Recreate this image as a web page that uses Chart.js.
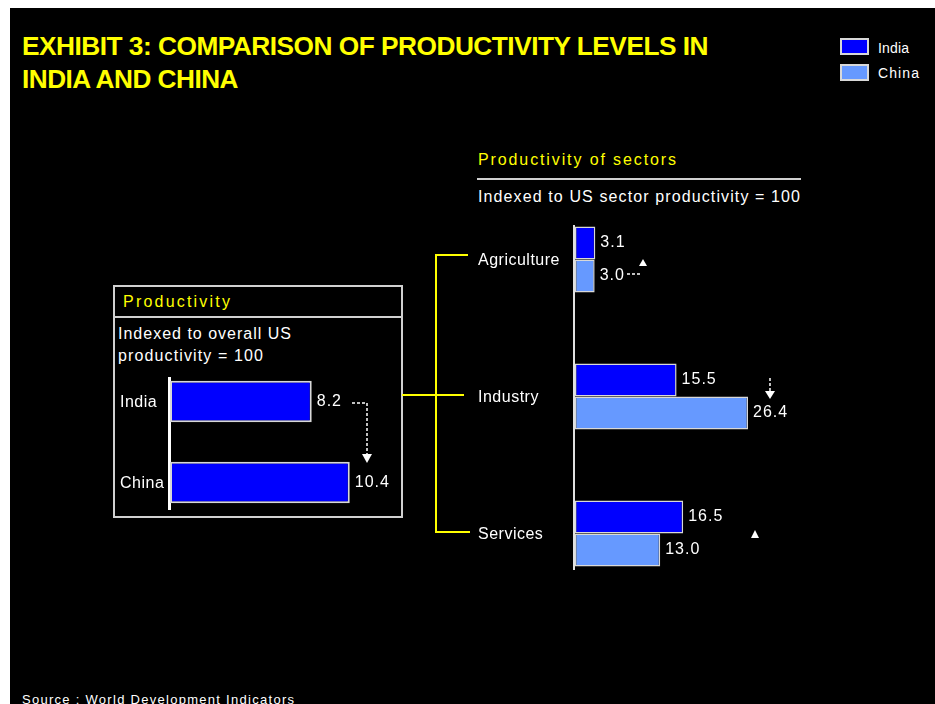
<!DOCTYPE html>
<html>
<head>
<meta charset="utf-8">
<script src="https://cdn.jsdelivr.net/npm/chart.js@4.4.0/dist/chart.umd.min.js"></script>
<style>
html, body { margin: 0; padding: 0; background: #fff; }
#page { position: absolute; left: 0; top: 0; width: 935px; height: 704px; overflow: hidden; }
#panel { position: absolute; left: 10px; top: 8px; width: 925px; height: 696px; background: #000; }
.t { position: absolute; white-space: nowrap; line-height: 1; font-family: "Liberation Sans", Arial, sans-serif; color: #fff; font-size: 16px; transform-origin: 0 0; }
.title { font-family: "Liberation Sans Narrow", "Liberation Sans", Arial, sans-serif; font-weight: bold; font-size: 26px; color: #ffff00; letter-spacing: -0.5px; }
.yel { color: #ffff00; }
.sw { position: absolute; width: 25px; height: 13px; border: 2px solid #d8d8d8; }
.box { position: absolute; }
svg { position: absolute; left: 0; top: 0; }
</style>
</head>
<body>
<div id="page">
  <div id="panel"></div>

  <div class="t title" style="left:22px;top:33px" data-w="686" data-squeeze="1">EXHIBIT 3: COMPARISON OF PRODUCTIVITY LEVELS IN</div>
  <div class="t title" style="left:22px;top:66px" data-w="216" data-squeeze="1">INDIA AND CHINA</div>

  <div class="sw" id="swIndia" style="left:840px;top:38px"></div>
  <div class="sw" id="swChina" style="left:840px;top:64px"></div>
  <div class="t" style="left:878px;top:41px;font-size:14px" data-w="31">India</div>
  <div class="t" style="left:878px;top:66px;font-size:14px" data-w="41">China</div>

  <div class="t yel" style="left:123px;top:294px" data-w="107">Productivity</div>
  <div class="t" style="left:118px;top:326px" data-w="173">Indexed to overall US</div>
  <div class="t" style="left:118px;top:348px" data-w="145">productivity = 100</div>

  <div class="t yel" style="left:478px;top:152px" data-w="198">Productivity of sectors</div>
  <div class="t" style="left:478px;top:189px" data-w="322">Indexed to US sector productivity = 100</div>

  <div class="t" style="left:22px;top:693px;font-size:13px" data-w="272">Source : World Development Indicators</div>

  <svg width="935" height="704">
    <!-- left box -->
    <rect x="114" y="286" width="288" height="231" fill="none" stroke="#d0d0d0" stroke-width="2"/>
    <line x1="114" y1="317" x2="402" y2="317" stroke="#d0d0d0" stroke-width="2"/>
    <line x1="169.5" y1="377" x2="169.5" y2="510" stroke="#fff" stroke-width="3"/>
    <!-- right header rule and axis -->
    <line x1="477" y1="179" x2="801" y2="179" stroke="#d0d0d0" stroke-width="2"/>
    <line x1="574" y1="225" x2="574" y2="570" stroke="#e0e0e0" stroke-width="2"/>
    <!-- yellow connector -->
    <g stroke="#ffff00" stroke-width="2" fill="none">
      <line x1="402" y1="395" x2="464" y2="395"/>
      <line x1="436" y1="255" x2="436" y2="533"/>
      <line x1="435" y1="255" x2="468" y2="255"/>
      <line x1="435" y1="532" x2="470" y2="532"/>
    </g>
    <!-- annotation arrows -->
    <g stroke="#fff" stroke-width="1.5" fill="none" stroke-dasharray="3,2">
      <polyline points="352,403 367,403 367,454"/>
      <line x1="627" y1="274" x2="642" y2="274"/>
      <line x1="770" y1="378" x2="770" y2="391"/>
    </g>
    <g fill="#fff">
      <polygon points="362,454 372,454 367,463"/>
      <polygon points="639,266 647,266 643,259"/>
      <polygon points="765,391 775,391 770,399"/>
      <polygon points="751,538 759,538 755,530"/>
    </g>
  </svg>

  <div class="box" style="left:120px;top:361px;width:311px;height:162px"><canvas id="overall" width="311" height="162"></canvas></div>
  <div class="box" style="left:478px;top:191px;width:426px;height:411px"><canvas id="sectors" width="426" height="411"></canvas></div>
</div>

<script>
const overallLabels = ["India", "China"];
const overallValues = [8.2, 10.4];

const sectorLabels = ["Agriculture", "Industry", "Services"];
const indiaSector = [3.1, 15.5, 16.5];
const chinaSector = [3.0, 26.4, 13.0];

const seriesNames = ["India", "China"];
const indiaBlue = "#0000ff";
const chinaBlue = "#6699ff";
const FONT = '"Liberation Sans", Arial, sans-serif';

document.getElementById("swIndia").style.background = indiaBlue;
document.getElementById("swChina").style.background = chinaBlue;

// stretch / squeeze texts to the widths
document.querySelectorAll("[data-w]").forEach(el => {
  const w = +el.dataset.w;
  const nat = el.getBoundingClientRect().width;
  if (el.dataset.squeeze) {
    el.style.transform = "scaleX(" + (w / nat) + ")";
    return;
  }
  const n = el.textContent.length;
  const ls = (w - nat) / (n - 1);
  if (ls < -1) {
    el.style.transform = "scaleX(" + (w / nat) + ")";
  } else {
    el.style.letterSpacing = ls + "px";
  }
});

// value labels at bar ends + category names left of the axis
const barText = {
  id: "barText",
  afterDatasetsDraw(chart) {
    const ctx = chart.ctx;
    ctx.save();
    ctx.fillStyle = "#fff";
    ctx.textBaseline = "middle";
    ctx.font = "16px " + FONT;
    ctx.letterSpacing = "1px";
    chart.data.datasets.forEach((ds, i) => {
      chart.getDatasetMeta(i).data.forEach((bar, j) => {
        ctx.textAlign = "left";
        ctx.fillText(ds.data[j].toFixed(1), bar.x + 5, bar.y);
      });
    });
    ctx.letterSpacing = "0.5px";
    const y = chart.scales.y;
    chart.data.labels.forEach((lab, j) => {
      ctx.fillText(lab, 0, y.getPixelForValue(j) + 1);
    });
    ctx.restore();
  }
};

const baseOpts = (max, padLeft) => ({
  indexAxis: "y",
  responsive: false,
  animation: false,
  layout: { padding: { left: padLeft, right: 0, top: 0, bottom: 0 } },
  plugins: { legend: { display: false }, tooltip: { enabled: false } },
  scales: {
    x: { display: false, min: 0, max: max },
    y: { display: false }
  }
});

new Chart(document.getElementById("overall"), {
  type: "bar",
  data: {
    labels: overallLabels,
    datasets: [{
      label: "Productivity",
      data: overallValues,
      backgroundColor: indiaBlue,
      borderColor: "#d8d8d8",
      borderWidth: 2,
      borderSkipped: false,
      barPercentage: 0.51,
      categoryPercentage: 1
    }]
  },
  options: baseOpts(15.1, 50),
  plugins: [barText]
});

new Chart(document.getElementById("sectors"), {
  type: "bar",
  data: {
    labels: sectorLabels,
    datasets: [
      { label: seriesNames[0], data: indiaSector, backgroundColor: indiaBlue },
      { label: seriesNames[1], data: chinaSector, backgroundColor: chinaBlue }
    ].map(d => Object.assign(d, {
      borderColor: "#d8d8d8",
      borderWidth: 1.5,
      borderSkipped: false,
      barPercentage: 1,
      categoryPercentage: 0.482
    }))
  },
  options: baseOpts(50.2, 97),
  plugins: [barText]
});
</script>
</body>
</html>
